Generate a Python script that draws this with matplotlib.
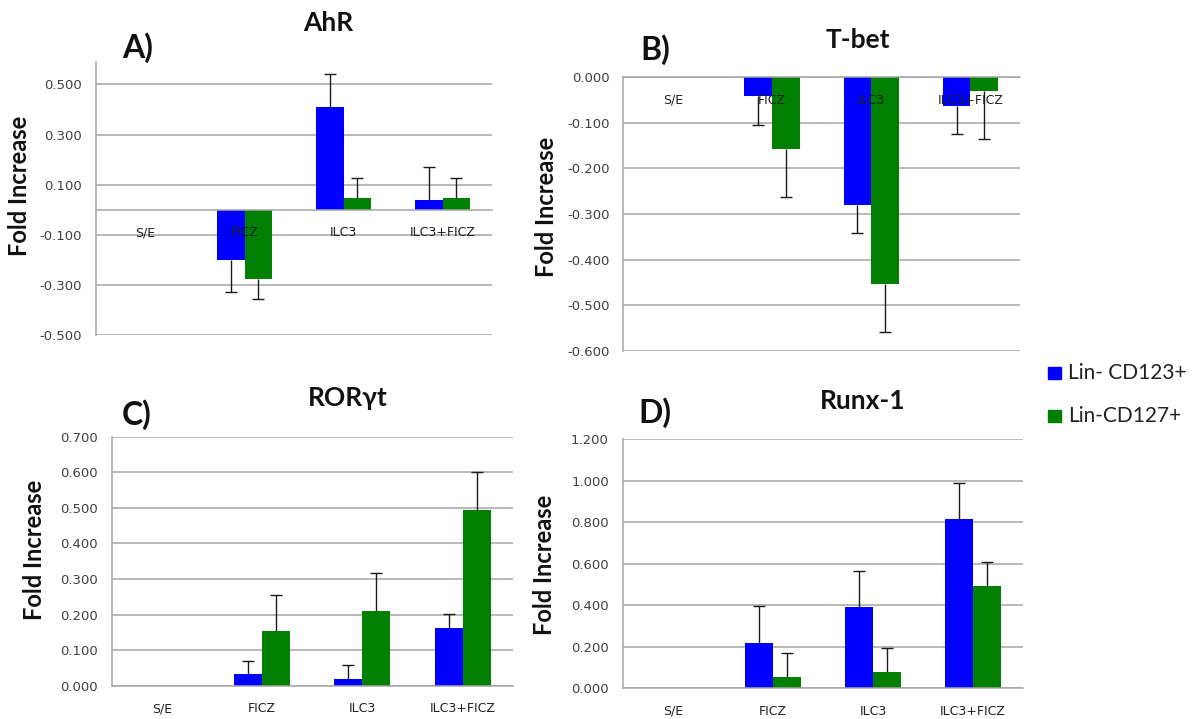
import matplotlib.pyplot as plt
from matplotlib.transforms import offset_copy

# categories and series
categories = ['S/E', 'FICZ', 'ILC3', 'ILC3+FICZ']
series_names = ['Lin- CD123+', 'Lin-CD127+']

ahr_cd123 = [0, -0.200, 0.410, 0.040]
ahr_cd123_err = [0, 0.130, 0.130, 0.130]
ahr_cd127 = [0, -0.275, 0.045, 0.045]
ahr_cd127_err = [0, 0.080, 0.080, 0.080]

tbet_cd123 = [0, -0.042, -0.280, -0.062]
tbet_cd123_err = [0, 0.063, 0.062, 0.062]
tbet_cd127 = [0, -0.158, -0.454, -0.031]
tbet_cd127_err = [0, 0.105, 0.104, 0.104]

ror_cd123 = [0, 0.034, 0.020, 0.162]
ror_cd123_err = [0, 0.037, 0.038, 0.041]
ror_cd127 = [0, 0.154, 0.211, 0.495]
ror_cd127_err = [0, 0.102, 0.106, 0.106]

runx_cd123 = [0, 0.220, 0.390, 0.813]
runx_cd123_err = [0, 0.176, 0.175, 0.174]
runx_cd127 = [0, 0.056, 0.080, 0.492]
runx_cd127_err = [0, 0.112, 0.115, 0.114]

ahr_ticks = [-0.5, -0.3, -0.1, 0.1, 0.3, 0.5]
tbet_ticks = [0.0, -0.1, -0.2, -0.3, -0.4, -0.5, -0.6]
ror_ticks = [0.0, 0.1, 0.2, 0.3, 0.4, 0.5, 0.6, 0.7]
runx_ticks = [0.0, 0.2, 0.4, 0.6, 0.8, 1.0, 1.2]

BLUE = '#0000FF'
GREEN = '#007F00'
GRID = '#A6A6A6'
TXT = '#404040'
W = 0.28


def panel(rect, a, a_err, b, b_err, ticks, ylim):
    ax = fig.add_axes(rect)
    x = list(range(len(categories)))
    for vals, errs, off, col in [(a, a_err, -W / 2, BLUE), (b, b_err, W / 2, GREEN)]:
        xs = [i + off for i in x]
        ax.bar(xs, vals, width=W, color=col, zorder=2)
        # one-sided error bars pointing away from zero, cap only at the far end
        keep = [i for i, v in enumerate(vals) if v != 0]
        ex = [xs[i] for i in keep]
        ev = [vals[i] for i in keep]
        ends = [v + e if v > 0 else v - e for v, e in zip(ev, [errs[i] for i in keep])]
        ax.vlines(ex, ev, ends, color='#1a1a1a', linewidth=1, zorder=3)
        ax.plot(ex, ends, ls='none', marker='_', ms=9, mew=1, color='#1a1a1a', zorder=3, clip_on=False)
    ax.set_xlim(-0.5, len(categories) - 0.5)
    ax.set_ylim(*ylim)
    ax.set_yticks(ticks)
    ax.set_yticklabels([f'{t:.3f}' for t in ticks])
    ax.yaxis.grid(True, color=GRID, linewidth=1.1)
    ax.set_axisbelow(True)
    ax.set_xticks([])
    for s in ['top', 'right']:
        ax.spines[s].set_visible(False)
    ax.spines['bottom'].set_position(('data', 0))
    for s in ['bottom', 'left']:
        ax.spines[s].set_color(GRID)
        ax.spines[s].set_linewidth(1.1)
    ax.tick_params(axis='y', length=0, pad=10, labelsize=9.5, labelcolor=TXT)
    # category names sit just under the zero line, drawn over the bars
    lab_tr = offset_copy(ax.transData, fig=fig, y=-23, units='dots')
    for i, name in enumerate(categories):
        ax.text(i, 0, name, transform=lab_tr, ha='center', va='center',
                fontsize=9, color='#202020', zorder=5, clip_on=False)
    return ax


fig = plt.figure(figsize=(11.93, 7.19), dpi=100)

axA = panel([0.0805, 0.534, 0.332, 0.380], ahr_cd123, ahr_cd123_err, ahr_cd127, ahr_cd127_err,
            ahr_ticks, (-0.5, 0.59))
axB = panel([0.5226, 0.5122, 0.3324, 0.3803], tbet_cd123, tbet_cd123_err, tbet_cd127, tbet_cd127_err,
            tbet_ticks, (-0.6, 0.0))
axC = panel([0.0935, 0.046, 0.3363, 0.3467], ror_cd123, ror_cd123_err, ror_cd127, ror_cd127_err,
            ror_ticks, (0.0, 0.7))
axD = panel([0.5220, 0.0427, 0.3355, 0.3467], runx_cd123, runx_cd123_err, runx_cd127, runx_cd127_err,
            runx_ticks, (0.0, 1.2))


def px(x, y):
    return x / 1193, 1 - y / 719


head = dict(family='Lato', fontweight='bold', ha='center', va='center', color='#111111')
for txt, (x, y) in [('AhR', (328, 23)), ('T-bet', (858, 40)), ('RORγt', (348, 398)), ('Runx-1', (863, 401))]:
    fig.text(*px(x, y), txt, fontsize=19, **head)
for txt, (x, y) in [('A)', (138, 48)), ('B)', (655, 50)), ('C)', (137, 415)), ('D)', (655, 413))]:
    fig.text(*px(x, y), txt, fontsize=23, **head)
for x, y in [(20, 186), (547, 207), (35, 550), (544, 565)]:
    fig.text(*px(x, y), 'Fold Increase', fontsize=17, rotation=90, **head)

# legend entries
for (name, col), y in zip([(series_names[0], BLUE), (series_names[1], GREEN)], [373, 416]):
    fig.patches.append(plt.Rectangle(px(1048, y + 6), 13 / 1193, 12 / 719, color=col,
                                     transform=fig.transFigure, figure=fig))
    fig.text(*px(1068, y), name, fontsize=15, family='Lato', va='center', ha='left', color='#222222')

plt.savefig('out.png', dpi=100)
